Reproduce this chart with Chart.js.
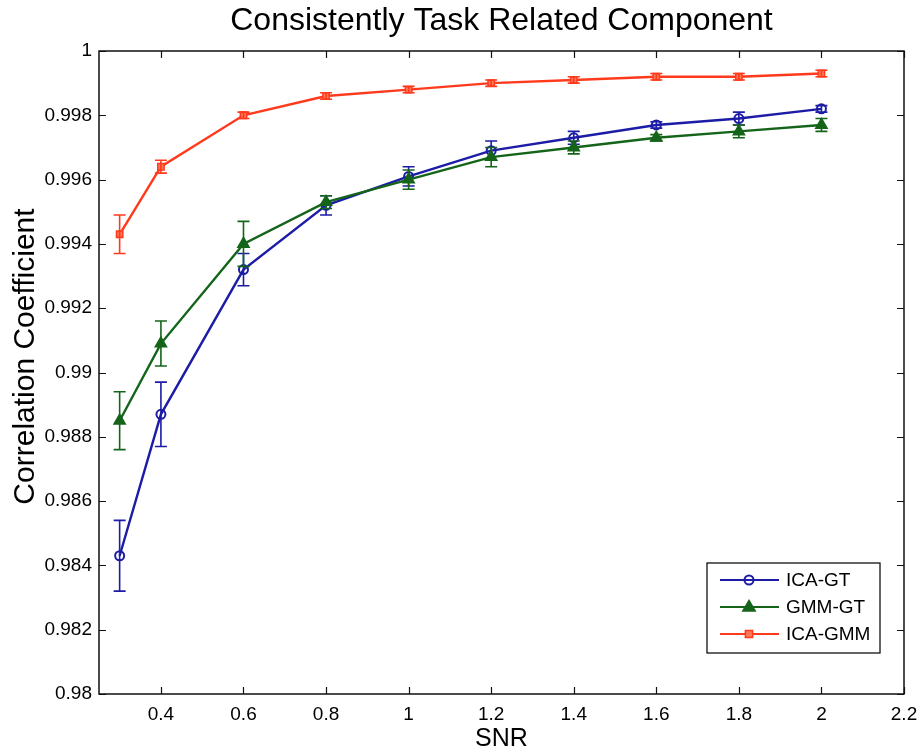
<!DOCTYPE html>
<html>
<head>
<meta charset="utf-8">
<script src="https://cdn.jsdelivr.net/npm/chart.js@4/dist/chart.umd.min.js"></script>
<style>
  html, body { margin: 0; padding: 0; background: #fff; }
  #wrap { width: 920px; height: 754px; }
</style>
</head>
<body>
<div id="wrap"><canvas id="c" width="920" height="754"></canvas></div>
<script>
// ---- data ----
const snr = [0.3, 0.4, 0.6, 0.8, 1.0, 1.2, 1.4, 1.6, 1.8, 2.0];

const icaGT     = [0.9843, 0.9887, 0.9932, 0.9952, 0.9961, 0.9969, 0.9973, 0.9977, 0.9979, 0.9982];
const icaGTErr  = [0.0011, 0.0010, 0.0005, 0.0003, 0.0003, 0.0003, 0.0002, 0.0001, 0.0002, 0.0001];

const gmmGT     = [0.9885, 0.9909, 0.9940, 0.9953, 0.9960, 0.9967, 0.9970, 0.9973, 0.9975, 0.9977];
const gmmGTErr  = [0.0009, 0.0007, 0.0007, 0.0002, 0.0003, 0.0003, 0.0002, 0.0001, 0.0002, 0.0002];

const icaGMM    = [0.9943, 0.9964, 0.9980, 0.9986, 0.9988, 0.9990, 0.9991, 0.9992, 0.9992, 0.9993];
const icaGMMErr = [0.0006, 0.0002, 0.0001, 0.0001, 0.0001, 0.0001, 0.0001, 0.0001, 0.0001, 0.0001];

const xTicks = [0.4, 0.6, 0.8, 1.0, 1.2, 1.4, 1.6, 1.8, 2.0, 2.2];
const yTicks = [0.98, 0.982, 0.984, 0.986, 0.988, 0.99, 0.992, 0.994, 0.996, 0.998, 1.0];

const titleText = 'Consistently Task Related Component';
const xLabel = 'SNR';
const yLabel = 'Correlation Coefficient';
const seriesNames = ['ICA-GT', 'GMM-GT', 'ICA-GMM'];

const BLUE = '#1c1ca6';
const GREEN = '#14641a';
const RED = '#ff3a1c';
const FONT = '"Liberation Sans", Arial, Helvetica, sans-serif';

const toPts = (ys) => snr.map((x, i) => ({ x: x, y: ys[i] }));

const errMap = [icaGTErr, gmmGTErr, icaGMMErr];

// error bars per dataset
const errorBars = {
  id: 'errorBars',
  afterDatasetDraw(chart, args) {
    const i = args.index;
    const ds = chart.data.datasets[i];
    const errs = errMap[i];
    const xs = chart.scales.x, ys = chart.scales.y;
    const ctx = chart.ctx;
    ctx.save();
    ctx.strokeStyle = ds.borderColor;
    ctx.lineWidth = 1.6;
    ds.data.forEach((p, k) => {
      const px = xs.getPixelForValue(p.x);
      const top = ys.getPixelForValue(p.y + errs[k]);
      const bot = ys.getPixelForValue(p.y - errs[k]);
      ctx.beginPath();
      ctx.moveTo(px, top); ctx.lineTo(px, bot);
      ctx.moveTo(px - 6, top); ctx.lineTo(px + 6, top);
      ctx.moveTo(px - 6, bot); ctx.lineTo(px + 6, bot);
      ctx.stroke();
    });
    ctx.restore();
  }
};

// frame, inward ticks, titles, legend
const decor = {
  id: 'decor',
  afterDraw(chart) {
    const ctx = chart.ctx;
    const a = chart.chartArea;
    const xs = chart.scales.x, ys = chart.scales.y;
    ctx.save();
    ctx.strokeStyle = '#111';
    ctx.lineWidth = 1.5;
    ctx.strokeRect(a.left, a.top, a.right - a.left, a.bottom - a.top);
    ctx.beginPath();
    const tl = 7;
    xTicks.forEach(v => {
      const px = Math.round(xs.getPixelForValue(v)) + 0.5;
      ctx.moveTo(px, a.bottom); ctx.lineTo(px, a.bottom - tl);
      ctx.moveTo(px, a.top); ctx.lineTo(px, a.top + tl);
    });
    yTicks.forEach(v => {
      const py = Math.round(ys.getPixelForValue(v)) + 0.5;
      ctx.moveTo(a.left, py); ctx.lineTo(a.left + tl, py);
      ctx.moveTo(a.right, py); ctx.lineTo(a.right - tl, py);
    });
    ctx.lineWidth = 1.2;
    ctx.stroke();

    // title
    const cx = (a.left + a.right) / 2;
    ctx.fillStyle = '#000';
    ctx.textAlign = 'center';
    ctx.textBaseline = 'middle';
    ctx.font = '32px ' + FONT;
    ctx.fillText(titleText, cx, 21);
    // x label
    ctx.font = '25px ' + FONT;
    ctx.fillText(xLabel, cx, 739);
    // y label
    ctx.save();
    ctx.translate(26, (a.top + a.bottom) / 2 - 16);
    ctx.rotate(-Math.PI / 2);
    ctx.font = '30px ' + FONT;
    ctx.fillText(yLabel, 0, 0);
    ctx.restore();

    // legend
    const lx = 707, ly = 563, lw = 173, lh = 90;
    ctx.fillStyle = '#fff';
    ctx.fillRect(lx, ly, lw, lh);
    ctx.strokeStyle = '#111';
    ctx.lineWidth = 1.3;
    ctx.strokeRect(lx, ly, lw, lh);
    const rows = [580, 607, 634];
    chart.data.datasets.forEach((ds, i) => {
      const y = rows[i];
      ctx.strokeStyle = ds.borderColor;
      ctx.lineWidth = 2.2;
      ctx.beginPath();
      ctx.moveTo(720, y); ctx.lineTo(779, y);
      ctx.stroke();
      ctx.fillStyle = ds.pointBackgroundColor;
      ctx.strokeStyle = ds.borderColor;
      ctx.lineWidth = ds.pointBorderWidth;
      ctx.beginPath();
      if (ds.pointStyle === 'circle') {
        ctx.arc(749, y, ds.pointRadius, 0, Math.PI * 2);
      } else if (ds.pointStyle === 'triangle') {
        const r = ds.pointRadius;
        ctx.moveTo(749, y - r); ctx.lineTo(749 + r * 0.95, y + r * 0.6); ctx.lineTo(749 - r * 0.95, y + r * 0.6); ctx.closePath();
      } else {
        const r = ds.pointRadius * 0.8;
        ctx.rect(749 - r, y - r, 2 * r, 2 * r);
      }
      ctx.fill(); ctx.stroke();
      ctx.fillStyle = '#000';
      ctx.textAlign = 'left';
      ctx.font = '19px ' + FONT;
      ctx.fillText(ds.label, 786, y + 1);
    });
    ctx.restore();
  }
};

new Chart(document.getElementById('c'), {
  type: 'line',
  data: {
    datasets: [
      {
        label: seriesNames[0], data: toPts(icaGT), order: 3,
        borderColor: BLUE, borderWidth: 2.4,
        pointStyle: 'circle', pointRadius: 4.5, pointBorderWidth: 2,
        pointBackgroundColor: 'rgba(0,0,0,0)', pointBorderColor: BLUE,
        tension: 0
      },
      {
        label: seriesNames[1], data: toPts(gmmGT), order: 2,
        borderColor: GREEN, borderWidth: 2.4,
        pointStyle: 'triangle', pointRadius: 6.5, pointBorderWidth: 1.5,
        pointBackgroundColor: GREEN, pointBorderColor: GREEN,
        tension: 0
      },
      {
        label: seriesNames[2], data: toPts(icaGMM), order: 1,
        borderColor: RED, borderWidth: 2.4,
        pointStyle: 'rect', pointRadius: 4.5, pointBorderWidth: 1.5,
        pointBackgroundColor: '#ff7a5a', pointBorderColor: RED,
        tension: 0
      }
    ]
  },
  options: {
    responsive: false,
    animation: false,
    layout: { padding: { top: 51, right: 16, left: 0, bottom: 0 } },
    plugins: {
      legend: { display: false },
      title: { display: false },
      tooltip: { enabled: false }
    },
    scales: {
      x: {
        type: 'linear', min: 0.25, max: 2.2,
        grid: { display: false, drawTicks: false },
        border: { display: false },
        afterBuildTicks: (s) => { s.ticks = xTicks.map(v => ({ value: v })); },
        afterFit: (s) => { s.height = 60; s.paddingLeft = 0; s.paddingRight = 0; },
        ticks: {
          padding: 9, color: '#000', font: { family: FONT, size: 19 },
          maxRotation: 0, autoSkip: false,
          callback: (v) => String(Number(v.toFixed(3)))
        }
      },
      y: {
        type: 'linear', min: 0.98, max: 1.0,
        grid: { display: false, drawTicks: false },
        border: { display: false },
        afterBuildTicks: (s) => { s.ticks = yTicks.map(v => ({ value: v })); },
        afterFit: (s) => { s.width = 99; s.paddingTop = 0; s.paddingBottom = 0; },
        ticks: {
          padding: 7, color: '#000', font: { family: FONT, size: 19 },
          autoSkip: false,
          callback: (v) => String(Number(v.toFixed(3)))
        }
      }
    }
  },
  plugins: [errorBars, decor]
});
</script>
</body>
</html>
